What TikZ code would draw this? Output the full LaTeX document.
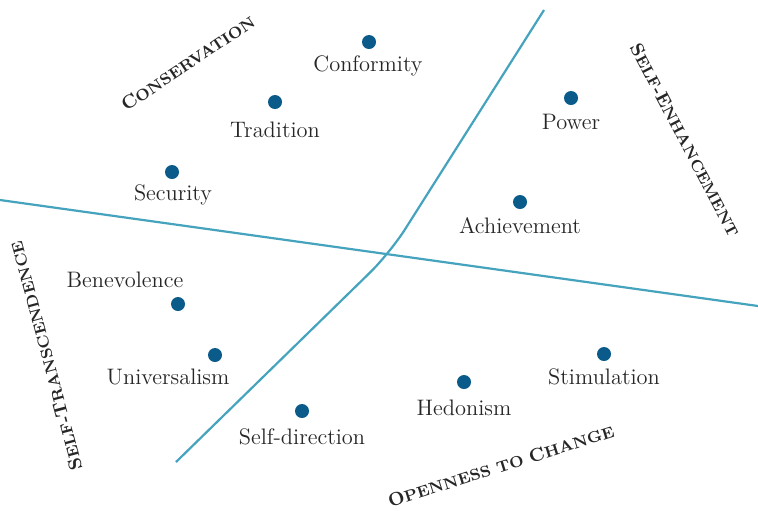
\documentclass[tikz,border=0pt]{standalone}
\usepackage{xcolor}
\definecolor{axisblue}{HTML}{45A3BE}
\definecolor{dotblue}{HTML}{0A5A8A}
\newcommand{\catfont}{\bfseries\fontsize{7.9}{9}\selectfont}
\newcommand{\catbig}[1]{{\fontsize{9.3}{9}\selectfont #1}}

\begin{document}
\begin{tikzpicture}[x=0.5pt,y=-0.5pt,
	axis/.style={draw=axisblue, line width=1.1pt},
	dot/.style={circle, fill=dotblue, inner sep=0pt, minimum size=7pt},
	val/.style={font=\fontsize{11.2}{13}\selectfont, text=black!85, inner sep=0pt},
	cat/.style={font=\catfont, text=black!85, inner sep=0pt}]
	\useasboundingbox (0,0) rectangle (758,510);

	% dividing lines
	\coordinate (hl) at (0,200);
	\coordinate (hr) at (758,306);
	\coordinate (vt) at (544,10);
	\coordinate (vk) at (390,253);
	\coordinate (vb) at (176,462);
	\draw[axis] (hl) -- (hr);
	\draw[axis, rounded corners=14pt] (vt) -- (vk) -- (vb);

	% values
	\node[dot] (conf) at (369,42) {};
	\node[val] (conftxt) at (368,66) {Conformity};
	\node[dot] (trad) at (275,102) {};
	\node[val] (tradtxt) at (275,130) {Tradition};
	\node[dot] (secu) at (172,172) {};
	\node[val] (secutxt) at (173,195) {Security};
	\node[dot] (powe) at (571,98) {};
	\node[val] (powetxt) at (571,122) {Power};
	\node[dot] (achi) at (520,202) {};
	\node[val] (achitxt) at (520,226) {Achievement};
	\node[dot] (bene) at (178,304) {};
	\node[val] (benetxt) at (125,280) {Benevolence};
	\node[dot] (univ) at (215,355) {};
	\node[val] (univtxt) at (168,377) {Universalism};
	\node[dot] (self) at (302,411) {};
	\node[val] (selftxt) at (302,437) {Self-direction};
	\node[dot] (hedo) at (464,382) {};
	\node[val] (hedotxt) at (464,408) {Hedonism};
	\node[dot] (stim) at (604,354) {};
	\node[val] (stimtxt) at (604,377) {Stimulation};

	% higher order groups
	\node[cat, rotate=33.8] (cons) at (188,63) {\catbig{C}ONSERVATION};
	\node[cat, rotate=-62.4] (enha) at (685,140) {\catbig{S}ELF-\catbig{E}NHANCEMENT};
	\node[cat, rotate=105] (tran) at (46,356) {\catbig{S}ELF-\catbig{T}RANSCENDENCE};
	\node[cat, rotate=17.5] (open) at (501,466) {\catbig{O}PENNESS TO \catbig{C}HANGE};
\end{tikzpicture}
\end{document}
